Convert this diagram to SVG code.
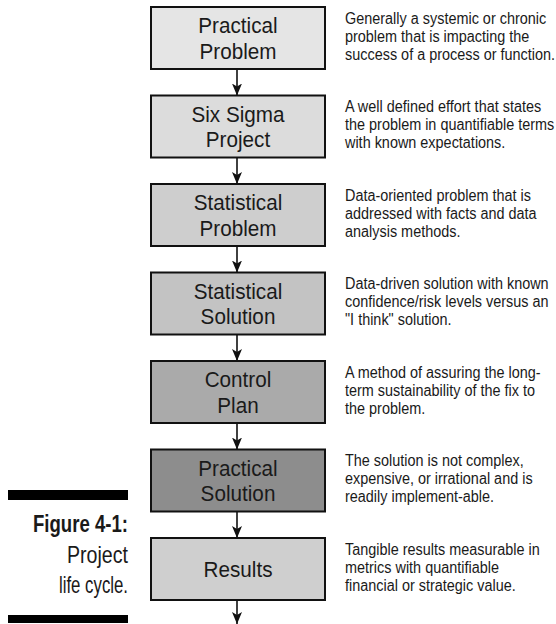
<svg xmlns="http://www.w3.org/2000/svg" width="556" height="624" viewBox="0 0 556 624">
<style>
.box{stroke:#111;stroke-width:2}
.lbl{font-family:"Liberation Sans",Arial,sans-serif;font-size:22.5px;fill:#1a1a1a;text-anchor:middle}
.desc{font-family:"Liberation Sans",Arial,sans-serif;font-size:16.4px;fill:#1a1a1a}
.cap{font-family:"Liberation Sans",Arial,sans-serif;font-size:24px;fill:#1a1a1a;text-anchor:end}
.conn line{stroke:#111;stroke-width:1.6;marker-end:url(#ah)}
</style>
<defs>
<marker id="ah" viewBox="0 0 12 10" refX="12" refY="5" markerWidth="12" markerHeight="10" markerUnits="userSpaceOnUse" orient="auto">
<path d="M0,0 L12,5 L0,10 L3,5 z" fill="#111"/>
</marker>
</defs>
<rect width="556" height="624" fill="#fff"/>

<g id="caption">
<rect x="8" y="490" width="120" height="10" fill="#000"/>
<rect x="8" y="615" width="120" height="8" fill="#000"/>
<text class="cap" x="128" y="532" font-weight="bold" textLength="95" lengthAdjust="spacingAndGlyphs">Figure 4-1:</text>
<text class="cap" x="128" y="563" textLength="61" lengthAdjust="spacingAndGlyphs">Project</text>
<text class="cap" x="128" y="593" textLength="69" lengthAdjust="spacingAndGlyphs">life cycle.</text>
</g>

<g class="conn" id="connectors">
<line x1="237" y1="69" x2="237" y2="95.5"/>
<line x1="237" y1="157.5" x2="237" y2="184"/>
<line x1="237" y1="246" x2="237" y2="272.5"/>
<line x1="237" y1="334.5" x2="237" y2="361"/>
<line x1="237" y1="423" x2="237" y2="449.5"/>
<line x1="237" y1="511.5" x2="237" y2="538"/>
<line x1="237" y1="600" x2="237" y2="624"/>
</g>

<g id="n1">
<rect class="box" x="151" y="7" width="174" height="62" fill="#e5e5e5"/>
<text class="lbl" transform="translate(238,33) scale(0.92,1)"><tspan x="0" y="0">Practical</tspan><tspan x="0" y="26">Problem</tspan></text>
<text class="desc" transform="translate(345,23.5) scale(0.88,1)"><tspan x="0" y="0">Generally a systemic or chronic</tspan><tspan x="0" y="18.2">problem that is impacting the</tspan><tspan x="0" y="36.4">success of a process or function.</tspan></text>
</g>

<g id="n2">
<rect class="box" x="151" y="95.5" width="174" height="62" fill="#dcdcdc"/>
<text class="lbl" transform="translate(238,121.5) scale(0.92,1)"><tspan x="0" y="0">Six Sigma</tspan><tspan x="0" y="26">Project</tspan></text>
<text class="desc" transform="translate(345,112) scale(0.88,1)"><tspan x="0" y="0">A well defined effort that states</tspan><tspan x="0" y="18.2">the problem in quantifiable terms</tspan><tspan x="0" y="36.4">with known expectations.</tspan></text>
</g>

<g id="n3">
<rect class="box" x="151" y="184" width="174" height="62" fill="#cecece"/>
<text class="lbl" transform="translate(238,210) scale(0.92,1)"><tspan x="0" y="0">Statistical</tspan><tspan x="0" y="26">Problem</tspan></text>
<text class="desc" transform="translate(345,200.5) scale(0.88,1)"><tspan x="0" y="0">Data-oriented problem that is</tspan><tspan x="0" y="18.2">addressed with facts and data</tspan><tspan x="0" y="36.4">analysis methods.</tspan></text>
</g>

<g id="n4">
<rect class="box" x="151" y="272.5" width="174" height="62" fill="#c3c3c3"/>
<text class="lbl" transform="translate(238,298.5) scale(0.92,1)"><tspan x="0" y="0">Statistical</tspan><tspan x="0" y="26">Solution</tspan></text>
<text class="desc" transform="translate(345,289) scale(0.88,1)"><tspan x="0" y="0">Data-driven solution with known</tspan><tspan x="0" y="18.2">confidence/risk levels versus an</tspan><tspan x="0" y="36.4">"I think" solution.</tspan></text>
</g>

<g id="n5">
<rect class="box" x="151" y="361" width="174" height="62" fill="#aaaaaa"/>
<text class="lbl" transform="translate(238,387) scale(0.92,1)"><tspan x="0" y="0">Control</tspan><tspan x="0" y="26">Plan</tspan></text>
<text class="desc" transform="translate(345,377.5) scale(0.88,1)"><tspan x="0" y="0">A method of assuring the long-</tspan><tspan x="0" y="18.2">term sustainability of the fix to</tspan><tspan x="0" y="36.4">the problem.</tspan></text>
</g>

<g id="n6">
<rect class="box" x="151" y="449.5" width="174" height="62" fill="#8d8d8d"/>
<text class="lbl" transform="translate(238,475.5) scale(0.92,1)"><tspan x="0" y="0">Practical</tspan><tspan x="0" y="26">Solution</tspan></text>
<text class="desc" transform="translate(345,466) scale(0.88,1)"><tspan x="0" y="0">The solution is not complex,</tspan><tspan x="0" y="18.2">expensive, or irrational and is</tspan><tspan x="0" y="36.4">readily implement-able.</tspan></text>
</g>

<g id="n7">
<rect class="box" x="151" y="538" width="174" height="62" fill="#cfcfcf"/>
<text class="lbl" transform="translate(238,577) scale(0.92,1)">Results</text>
<text class="desc" transform="translate(345,554.5) scale(0.88,1)"><tspan x="0" y="0">Tangible results measurable in</tspan><tspan x="0" y="18.2">metrics with quantifiable</tspan><tspan x="0" y="36.4">financial or strategic value.</tspan></text>
</g>
</svg>
